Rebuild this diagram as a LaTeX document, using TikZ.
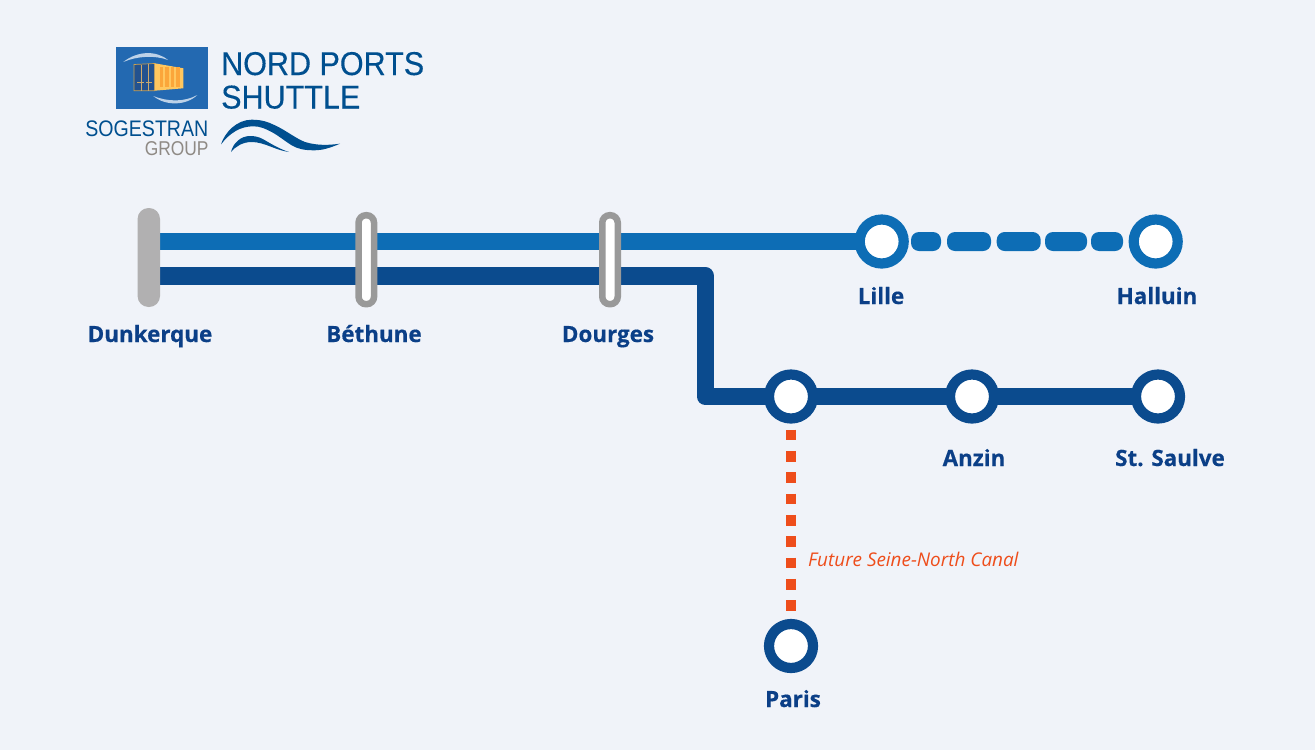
\documentclass[tikz,border=0pt]{standalone}
\usepackage{fontspec}
\setmainfont[BoldFeatures={FakeBold=0.4}]{Open Sans}
\newfontfamily\logofont[FakeStretch=0.925,FakeBold=0.25]{Liberation Sans}
\newfontfamily\sgfont[FakeStretch=0.87]{Liberation Sans}
\definecolor{bgc}{HTML}{F0F3F9}
\definecolor{lightl}{HTML}{0D6DB5}
\definecolor{darkl}{HTML}{0B4B8E}
\definecolor{labelc}{HTML}{0B3F87}
\definecolor{barg}{HTML}{B1B0B1}
\definecolor{ringg}{HTML}{999999}
\definecolor{redc}{HTML}{EE4D1B}
\definecolor{logob}{HTML}{2369B1}
\definecolor{titlec}{HTML}{004F8F}
\definecolor{doorb}{HTML}{23528F}
\definecolor{orangec}{HTML}{FFC75F}
\definecolor{orangeb}{HTML}{FBA63A}
\definecolor{greyt}{HTML}{8F8A85}
\pgfdeclarelayer{bgl}
\pgfdeclarelayer{lines}
\pgfsetlayers{bgl,lines,main}
\tikzset{
  x=1pt,y=-1pt,
  lightline/.style={draw=lightl,line width=17.5pt},
  darkline/.style={draw=darkl,line width=17.5pt,line join=round},
  lstation/.style={circle,draw=lightl,fill=white,line width=10.2pt,minimum size=44pt,inner sep=0pt},
  dstation/.style={circle,draw=darkl,fill=white,line width=10.2pt,minimum size=44pt,inner sep=0pt},
  stoplabel/.style={font=\fontsize{22.4}{22.4}\selectfont\bfseries,text=labelc,anchor=base},
  ringbar/.style={draw=ringg,fill=white,line width=6.5pt,rounded corners=7.5pt,minimum width=15.5pt,minimum height=89pt,inner sep=0pt},
  fullbar/.style={fill=barg,rounded corners=11pt,minimum width=22.5pt,minimum height=99pt,inner sep=0pt},
  dashseg/.style={fill=lightl,rounded corners=8pt,inner sep=0pt,minimum height=19pt},
  logotext/.style={font=\logofont\fontsize{33}{33}\selectfont,text=titlec,anchor=base west,inner sep=0pt},
}
\begin{document}
\begin{tikzpicture}
\begin{pgfonlayer}{bgl}
\path[use as bounding box,fill=bgc] (0,0) rectangle (1315,750);
\end{pgfonlayer}
% logo
\fill[logob] (115.7,47.3) rectangle (208,109);
\fill[white!70!logob] (123.3,62) .. controls (137,51) and (156,50) .. (168,60) .. controls (155,55) and (137,56) .. (123.3,62) -- cycle;
\fill[white!70!logob] (153.3,96) .. controls (168,102) and (185,102) .. (197.3,95) .. controls (186,106) and (165,106) .. (153.3,96) -- cycle;
\filldraw[draw=orangec!80!black,fill=doorb,line width=.7pt] (134,64.5) -- (154.7,63.5) -- (154.7,90.7) -- (134,90.7) -- cycle;
\draw[orangec!60!gray,line width=.8pt] (141,64.5) -- (141,90.7) (148,64) -- (148,90.7) (137,82.5) -- (144,82.5) (146,82.5) -- (152,82.5);
\fill[orangec] (154.7,63.3) -- (183.3,68.3) -- (183.3,88.3) -- (154.7,90.7) -- cycle;
\foreach \cx in {159.5,165,170.5,176}{\fill[orangeb] (\cx,67) rectangle (\cx+3.5,87);}
\node[logotext] (t1) at (221,75) {NORD PORTS};
\node[logotext] (t2) at (221,108.5) {SHUTTLE};
\node[font=\sgfont\fontsize{22.5}{22.5}\selectfont,text=titlec,anchor=base east,inner sep=0pt] (sg) at (208.5,136) {SOGESTRAN};
\node[font=\sgfont\fontsize{20}{20}\selectfont,text=greyt,anchor=base east,inner sep=0pt] (gr) at (208.8,155.5) {GROUP};
\fill[titlec] (221,144.3) .. controls (225,132) and (237,119.7) .. (251.7,119.7) .. controls (262,119.7) and (268,122) .. (275,125.3) .. controls (287,131) and (295,138) .. (305,142) .. controls (318,146) and (330,145) .. (340,143.7) .. controls (330,148) and (322,150.3) .. (315,150.3) .. controls (304,150.3) and (298,149) .. (291.7,145.3) .. controls (284,140.5) and (279,136) .. (271.7,132) .. controls (265,128.5) and (260,126.3) .. (253.3,126.3) .. controls (240,126.3) and (230,133) .. (221,144.3) -- cycle;
\fill[titlec] (231,152) .. controls (233,143) and (241,136) .. (250,136) .. controls (258,136) and (262,138.5) .. (265,140.3) .. controls (273,145) and (281,149.5) .. (289,152) .. controls (282,151) and (277,149) .. (271.7,147) .. controls (264,144) and (258,142) .. (251.7,142) .. controls (243,142) and (236,146) .. (231,152) -- cycle;
% stations
\node[lstation] (lille) at (881.7,241.5) {};
\node[lstation] (halluin) at (1155.7,241.5) {};
\node[dstation] (junction) at (791,396.5) {};
\node[dstation] (anzin) at (972,396.5) {};
\node[dstation] (saulve) at (1158,396.5) {};
\node[dstation] (paris) at (791,646) {};
\coordinate (lstart) at (160,241.5);
\coordinate (dstart) at (160,276);
% lines
\begin{pgfonlayer}{lines}
\draw[lightline] (lstart) -- (lille.center);
\draw[darkline] (dstart) -- (705.5,276) -- (705.5,396.5) -- (junction.center);
\draw[darkline] (junction.center) -- (anzin.center);
\draw[darkline] (anzin.center) -- (saulve.center);
\draw[redc,line width=10.7pt,dash pattern=on 10.7pt off 10.63pt,shorten <=6pt,shorten >=7pt] (junction.south) -- (paris.north);
\end{pgfonlayer}
% dashes
\node[dashseg,minimum width=30pt] (d1) at (926,241.5) {};
\node[dashseg,minimum width=44pt] (d2) at (969,241.5) {};
\node[dashseg,minimum width=44pt] (d3) at (1018.7,241.5) {};
\node[dashseg,minimum width=42pt] (d4) at (1066,241.5) {};
\node[dashseg,minimum width=32pt] (d5) at (1107,241.5) {};
% bars
\node[fullbar] (dunkerque) at (148.8,257.5) {};
\node[ringbar] (bethune) at (366.3,259.7) {};
\node[ringbar] (dourges) at (610,259.7) {};
% labels
\node[stoplabel] (ldun) at (150,342) {Dunkerque};
\node[stoplabel] (lbet) at (374,342) {Béthune};
\node[stoplabel] (ldou) at (608,342) {Dourges};
\node[stoplabel] (llil) at (881,304) {Lille};
\node[stoplabel] (lhal) at (1157,304) {Halluin};
\node[stoplabel] (lanz) at (974,466) {Anzin};
\node[stoplabel] (lsau) at (1170,466) {St. Saulve};
\node[stoplabel] (lpar) at (793,707) {Paris};
\node[font=\fontsize{18.9}{18.9}\selectfont\itshape,text=redc,anchor=base west,inner sep=0pt] (canal) at (808,566) {Future Seine-North Canal};
\end{tikzpicture}
\end{document}
